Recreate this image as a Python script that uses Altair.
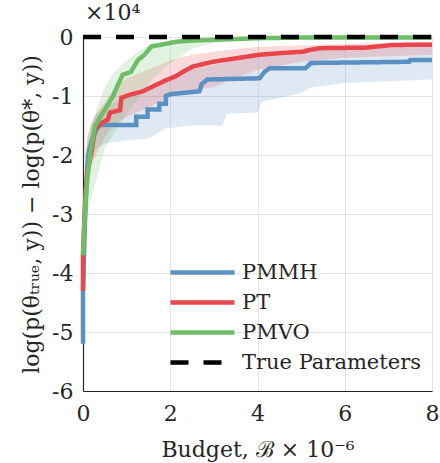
import altair as alt
import pandas as pd

FONT = "DejaVu Serif"
INK = "#262626"

# ---- series definitions -------------------------------------------------
SERIES = ["PMMH", "PT", "PMVO", "True Parameters"]
COLORS = ["#5b90c2", "#e8464b", "#6dbe66", "#000000"]
DASHES = [[1, 0], [1, 0], [1, 0], [18, 15]]

# median log-likelihood gap (x 1e4) against budget (x 1e6)
pmmh_x = [0, 0, 0.03, 0.06, 0.1, 0.13, 0.2, 0.3, 0.38, 1.22, 1.22, 1.48, 1.48,
          1.75, 1.75, 1.9, 1.9, 2.0, 2.67, 2.72, 2.85, 4.05, 4.16, 4.28, 5.1,
          5.23, 7.48, 7.5, 8]
pmmh_y = [-5.2, -4.3, -3.5, -2.8, -2.2, -1.97, -1.75, -1.58, -1.49, -1.49,
          -1.35, -1.35, -1.23, -1.23, -1.13, -1.13, -1.0, -0.97, -0.92, -0.8,
          -0.72, -0.70, -0.59, -0.53, -0.53, -0.44, -0.42, -0.39, -0.39]

pt_x = [0, 0, 0.03, 0.06, 0.1, 0.19, 0.27, 0.42, 0.57, 0.62, 0.85, 0.88, 1.07,
        1.37, 1.68, 1.91, 2.14, 2.29, 2.52, 2.98, 3.51, 4.05, 4.58, 5.04, 5.19,
        5.42, 6.49, 6.9, 7.1, 8]
pt_y = [-4.3, -3.7, -3.1, -2.6, -2.3, -1.97, -1.57, -1.46, -1.4, -1.28, -1.24,
        -1.03, -0.98, -0.92, -0.81, -0.73, -0.66, -0.59, -0.5, -0.42, -0.36,
        -0.3, -0.27, -0.25, -0.22, -0.19, -0.18, -0.15, -0.135, -0.13]

pmvo_x = [0, 0.03, 0.06, 0.1, 0.17, 0.27, 0.4, 0.5, 0.61, 0.69, 0.8, 0.91,
          1.03, 1.1, 1.26, 1.41, 1.57, 1.76, 2.14, 2.5, 3.3, 4.0, 5.0, 8]
pmvo_y = [-3.7, -3.2, -2.8, -2.4, -1.95, -1.52, -1.35, -1.23, -1.1, -1.0,
          -0.81, -0.64, -0.61, -0.59, -0.39, -0.3, -0.16, -0.135, -0.08, -0.06,
          -0.04, -0.02, -0.01, -0.01]

true_x = [0, 8]
true_y = [0, 0]

# spread of the runs (lower / upper envelope)
pmmh_band_x = [0.05, 0.1, 0.2, 0.3, 0.5, 1.0, 1.5, 1.9, 2.5, 3.2, 3.3, 4.0,
               4.1, 5.0, 5.2, 6.0, 8]
pmmh_band_lo = [-2.8, -2.3, -2.05, -1.9, -1.8, -1.75, -1.72, -1.55, -1.5, -1.5,
                -1.3, -1.28, -1.1, -0.95, -0.86, -0.78, -0.72]
pmmh_band_hi = [-2.0, -1.7, -1.45, -1.3, -1.2, -1.0, -0.85, -0.7, -0.55, -0.45,
                -0.42, -0.32, -0.3, -0.24, -0.22, -0.2, -0.16]

pt_band_x = [0.05, 0.1, 0.2, 0.3, 0.5, 0.7, 1.0, 1.5, 2.0, 2.5, 3.0, 3.3, 4.0,
             5.0, 6.0, 8]
pt_band_lo = [-2.8, -2.4, -2.15, -2.0, -1.7, -1.5, -1.35, -1.2, -1.0, -0.9,
              -0.85, -0.75, -0.56, -0.42, -0.35, -0.3]
pt_band_hi = [-2.0, -1.7, -1.45, -1.3, -1.1, -0.9, -0.7, -0.55, -0.4, -0.3,
              -0.25, -0.22, -0.17, -0.14, -0.12, -0.08]

pmvo_band_x = [0.03, 0.06, 0.1, 0.2, 0.35, 0.5, 0.7, 1.0, 1.3, 1.6, 2.0, 2.5,
               3.0, 4.0, 5.0, 8]
pmvo_band_lo = [-3.7, -3.3, -3.0, -2.7, -2.3, -1.9, -1.65, -1.3, -1.0, -0.7,
                -0.45, -0.2, -0.1, -0.03, -0.015, -0.01]
pmvo_band_hi = [-3.0, -2.3, -2.0, -1.5, -1.15, -0.85, -0.6, -0.4, -0.22, -0.12,
                -0.06, -0.03, -0.02, -0.005, 0, 0]

# ---- tidy tables ---------------------------------------------------------
line_parts = []
for name, xs, ys in [("PMMH", pmmh_x, pmmh_y), ("PT", pt_x, pt_y),
                     ("PMVO", pmvo_x, pmvo_y),
                     ("True Parameters", true_x, true_y)]:
    line_parts.append(pd.DataFrame({"budget": xs, "value": ys,
                                    "series": name, "idx": range(len(xs))}))
lines_df = pd.concat(line_parts, ignore_index=True)

band_parts = []
for name, xs, lo, hi in [("PMMH", pmmh_band_x, pmmh_band_lo, pmmh_band_hi),
                         ("PT", pt_band_x, pt_band_lo, pt_band_hi),
                         ("PMVO", pmvo_band_x, pmvo_band_lo, pmvo_band_hi)]:
    band_parts.append(pd.DataFrame({"budget": xs, "lo": lo, "hi": hi,
                                    "series": name}))
bands_df = pd.concat(band_parts, ignore_index=True)

# ---- scales & axes -------------------------------------------------------
x_scale = alt.Scale(domain=[0, 8], nice=False, zero=False)
y_scale = alt.Scale(domain=[-6, 0], nice=False, zero=False)
color_scale = alt.Scale(domain=SERIES, range=COLORS)
dash_scale = alt.Scale(domain=SERIES, range=DASHES)
fill_scale = alt.Scale(domain=SERIES[:3], range=COLORS[:3])

x_axis = alt.Axis(values=[0, 2, 4, 6, 8], title="Budget, ℬ × 10⁻⁶",
                  labelPadding=12, titlePadding=15, labelFlush=False)
y_axis = alt.Axis(values=[0, -1, -2, -3, -4, -5, -6],
                  labelExpr="datum.value == 0 ? '0' : '-' + abs(datum.value)",
                  title="log(p(θₜᵣᵤₑ, y)) − log(p(θ*, y))",
                  labelPadding=10, titlePadding=8, labelFlush=False)

legend = alt.Legend(title=None, orient="none", legendX=77, legendY=225,
                    symbolType="M0,0H8", symbolSize=256, symbolStrokeWidth=4.5,
                    labelOffset=61, rowPadding=8, padding=0, labelLimit=0)

bands = alt.Chart(bands_df).mark_area(opacity=0.2).encode(
    x=alt.X("budget:Q", scale=x_scale, axis=x_axis),
    y=alt.Y("lo:Q", scale=y_scale, axis=y_axis),
    y2="hi:Q",
    fill=alt.Fill("series:N", scale=fill_scale, legend=None),
)


def line_layer(name):
    return alt.Chart(lines_df).transform_filter(
        alt.datum.series == name
    ).mark_line(strokeWidth=4.5).encode(
        x=alt.X("budget:Q", scale=x_scale, axis=x_axis),
        y=alt.Y("value:Q", scale=y_scale, axis=y_axis),
        color=alt.Color("series:N", scale=color_scale, legend=legend),
        strokeDash=alt.StrokeDash("series:N", scale=dash_scale, legend=legend),
        order="idx:Q",
    )


chart = alt.layer(
    bands, *[line_layer(s) for s in SERIES]
).properties(
    width=349,
    height=354,
    title=alt.TitleParams("×10⁴", anchor="start", frame="group", dx=2,
                          offset=-16, baseline="alphabetic", font=FONT,
                          fontSize=22, fontWeight="normal", color=INK),
    autosize=alt.AutoSizeParams(type="none"),
    padding={"left": 83, "top": 37, "right": 8, "bottom": 72},
).configure_view(
    stroke=None
).configure_axis(
    labelFont=FONT, titleFont=FONT, labelFontSize=22, titleFontSize=22,
    labelColor=INK, titleColor=INK, titleFontWeight="normal",
    gridColor="#e4e4e4", gridWidth=1, domainColor=INK, domainWidth=1.2,
    ticks=False,
).configure_legend(
    labelFont=FONT, labelFontSize=21, labelColor=INK,
)

chart.save("out.html", embed_options={"renderer": "svg", "actions": False})
